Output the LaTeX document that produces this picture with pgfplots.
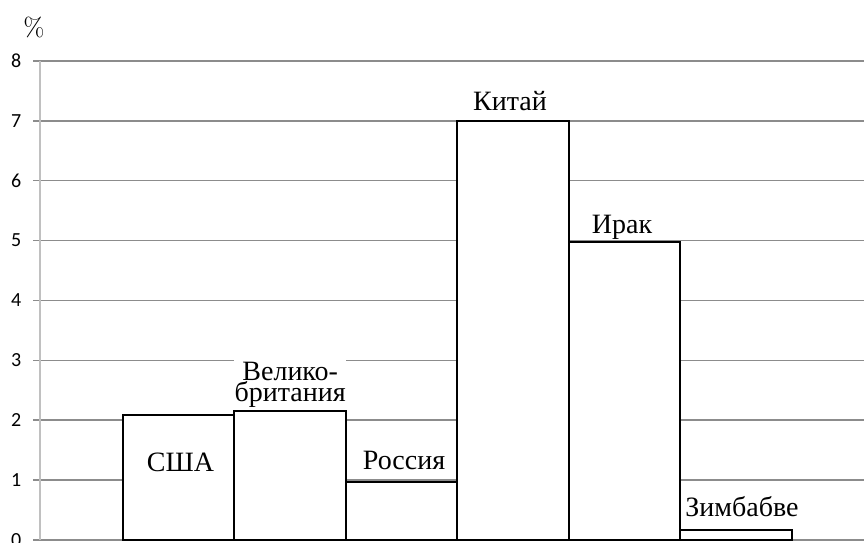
\documentclass[border=0pt]{standalone}
\usepackage{fontspec}
\usepackage{pgfplots}
\pgfplotsset{compat=1.18}
\newfontfamily\tnr{Liberation Serif}
\newfontfamily\calib{Carlito}
\definecolor{gridc}{HTML}{8C8C8C}
\definecolor{axc}{HTML}{C0C0C0}
\begin{document}
\begin{tikzpicture}
\begin{axis}[name=ax, scale only axis, width=412pt, height=239.5pt,
  xmin=-1.244, xmax=6.146, ymin=0, ymax=8,
  ytick={0,...,8}, xtick=\empty,
  axis x line=bottom, axis y line=left,
  x axis line style={draw=gridc, line width=0.75pt, -},
  y axis line style={draw=axc, line width=0.85pt, -},
  ymajorgrids, grid style={draw=gridc, line width=0.75pt},
  tick align=outside, major tick length=3.5pt,
  ytick style={draw=gridc, line width=0.75pt},
  /pgf/number format/assume math mode=true,
  yticklabel style={font=\calib\fontsize{10}{12}\selectfont, anchor=east, xshift=-2.3pt},
  ybar, bar width=1, clip=false,
]
\addplot[draw=black, fill=white, line width=1pt] coordinates {(0,2.08) (1,2.15) (2,0.97) (3,7.0) (4,4.97) (5,0.17)};
\fill[white] (axis cs:0.5,2.25) rectangle (axis cs:1.5,3.05);
\begin{scope}[every node/.style={font=\tnr\fontsize{14}{11}\selectfont, anchor=base, inner sep=0pt}]
\node at (axis cs:0.016,1.152) {США};
\node at (axis cs:1.0,2.672) {Велико-};
\node at (axis cs:1.0,2.32) {британия};
\node at (axis cs:2.021,1.169) {Россия};
\node at (axis cs:2.971,7.165) {Китай};
\node at (axis cs:3.976,5.127) {Ирак};
\node at (axis cs:5.052,0.39) {Зимбабве};
\end{scope}
\node[anchor=base, inner sep=0pt, font=\fontsize{13}{15}\selectfont, xshift=-3pt, yshift=12.5pt] at (rel axis cs:0,1) {\%};
\end{axis}
\pgfresetboundingbox
\path[use as bounding box] ([xshift=-20pt,yshift=-1.5pt]ax.south west) rectangle ([yshift=30.5pt]ax.north east);
\end{tikzpicture}
\end{document}
